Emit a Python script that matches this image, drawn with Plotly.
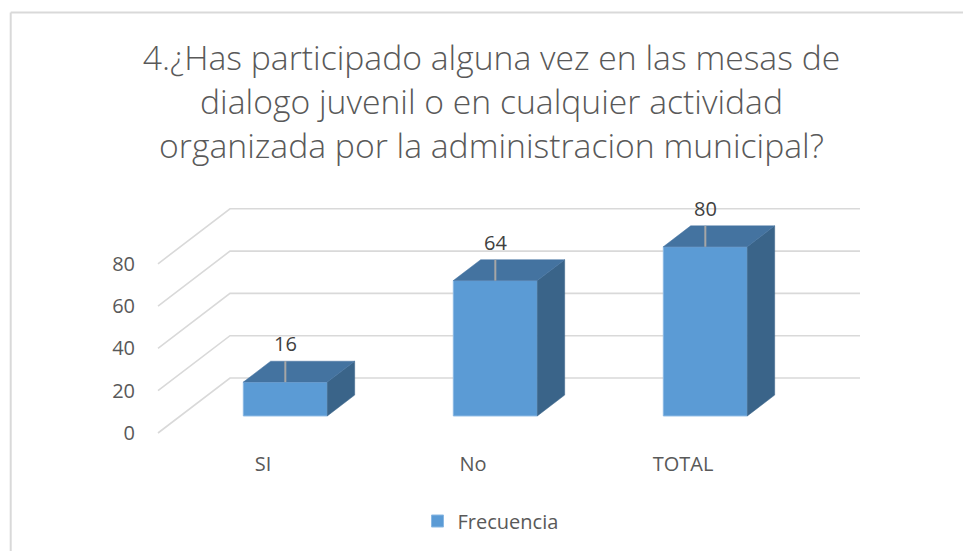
import plotly.graph_objects as go

# ---- data ----
categories = ["SI", "No", "TOTAL"]
frecuencia = [16, 64, 80]
y_ticks = [0, 20, 40, 60, 80]
series_name = "Frecuencia"
title_text = ("4.¿Has participado alguna vez en las mesas de<br>"
              "dialogo juvenil o en cualquier actividad<br>"
              "organizada por la administracion municipal?")

# ---- layout geometry (pixels) ----
W, H = 963, 551
L, R, T, B = 140, 880, 200, 448
X0PX, CAT_PX = 263, 210.0
Y0PX, UNIT_PX = 433, 2.115
xr = [(L - X0PX) / CAT_PX, (R - X0PX) / CAT_PX]
yr = [(Y0PX - B) / UNIT_PX, (Y0PX - T) / UNIT_PX]
DX = 72 / CAT_PX          # depth shift in category units
DY = 55 / UNIT_PX         # depth shift in value units
FB, BB = 0.31, 0.69       # bar front / back depth fractions
BW = 84 / CAT_PX          # bar width

FRONT = "#5B9BD5"
TOP = "#4473A0"
SIDE = "#3A6489"
GRID = "#d9d9d9"
TXT = "#595959"
FONT = "Open Sans"

fig = go.Figure()

# back wall gridlines + side wall diagonals (below the bars)
x_first, x_last = -0.5, len(categories) - 0.5
for v in y_ticks:
    fig.add_shape(type="path", xref="x", yref="y", layer="below",
                  path=(f"M {x_first},{v} L {x_first + DX},{v + DY} "
                        f"L {x_last + DX},{v + DY}"),
                  line=dict(color=GRID, width=1.6))

b0 = FB * DY
dd_x = (BB - FB) * DX
dd_y = (BB - FB) * DY

# front faces
fig.add_trace(go.Bar(
    x=[i + FB * DX for i in range(len(categories))],
    y=frecuencia, base=[b0] * len(frecuencia), width=BW,
    marker=dict(color=FRONT, line=dict(color="#8ab8e3", width=1)),
    name=series_name, showlegend=True))

for i, v in enumerate(frecuencia):
    cx = i + FB * DX
    xl, xrr = cx - BW / 2, cx + BW / 2
    # side face
    fig.add_trace(go.Scatter(
        x=[xrr, xrr, xrr + dd_x, xrr + dd_x, xrr],
        y=[b0, b0 + v, b0 + v + dd_y, b0 + dd_y, b0],
        mode="lines", fill="toself", fillcolor=SIDE,
        line=dict(color=SIDE, width=0.5),
        hoverinfo="skip", showlegend=False))
    # top face
    fig.add_trace(go.Scatter(
        x=[xl, xrr, xrr + dd_x, xl + dd_x, xl],
        y=[b0 + v, b0 + v, b0 + v + dd_y, b0 + v + dd_y, b0 + v],
        mode="lines", fill="toself", fillcolor=TOP,
        line=dict(color=TOP, width=0.5),
        hoverinfo="skip", showlegend=False))

# leader lines + data labels
for i, v in enumerate(frecuencia):
    cx = i + FB * DX
    fig.add_trace(go.Scatter(
        x=[cx, cx], y=[b0 + v, BB * DY + v],
        mode="lines", line=dict(color="#a6a6a6", width=2),
        hoverinfo="skip", showlegend=False))
    fig.add_annotation(
        x=cx, y=BB * DY + v, text=str(v), showarrow=False,
        yanchor="bottom", yshift=2,
        font=dict(family=FONT, size=20, color="#404040"))

# chart border (light gray)
def px_to_paper_x(px):
    return (px - L) / (R - L)

def px_to_paper_y(py):
    return (B - py) / (B - T)

fig.add_shape(type="line", xref="paper", yref="paper",
              x0=px_to_paper_x(10.7), y0=px_to_paper_y(560),
              x1=px_to_paper_x(10.7), y1=px_to_paper_y(12.5),
              line=dict(color=GRID, width=2))
fig.add_shape(type="line", xref="paper", yref="paper",
              x0=px_to_paper_x(10.7), y0=px_to_paper_y(12.5),
              x1=px_to_paper_x(975), y1=px_to_paper_y(12.5),
              line=dict(color=GRID, width=2))

fig.update_layout(
    width=W, height=H, autosize=False,
    margin=dict(l=L, r=W - R, t=T, b=H - B, pad=0),
    paper_bgcolor="white", plot_bgcolor="white",
    font=dict(family=FONT, color=TXT),
    title=dict(text=title_text, xref="container", yref="container",
               x=491.5 / W, xanchor="center", y=1 - 70 / H, yanchor="top",
               font=dict(family=FONT, size=33.7, color=TXT, weight=300)),
    xaxis=dict(range=xr, tickvals=list(range(len(categories))),
               ticktext=categories, showgrid=False, zeroline=False,
               showline=False, ticks="", ticklabelstandoff=2,
               tickfont=dict(family=FONT, size=20, color=TXT),
               fixedrange=True),
    yaxis=dict(range=yr, tickvals=y_ticks, showgrid=False, zeroline=False,
               showline=False, ticks="", ticklabelstandoff=4,
               tickfont=dict(family=FONT, size=20, color=TXT),
               fixedrange=True),
    legend=dict(orientation="h", xref="container", yref="container",
                x=490.5 / W, xanchor="center", y=1 - 521 / H,
                yanchor="middle", font=dict(family=FONT, size=20, color=TXT),
                itemwidth=30),
    showlegend=True,
)

fig.write_html("out.html", config={"displayModeBar": False},
               post_script="document.body.style.margin='0px';")
